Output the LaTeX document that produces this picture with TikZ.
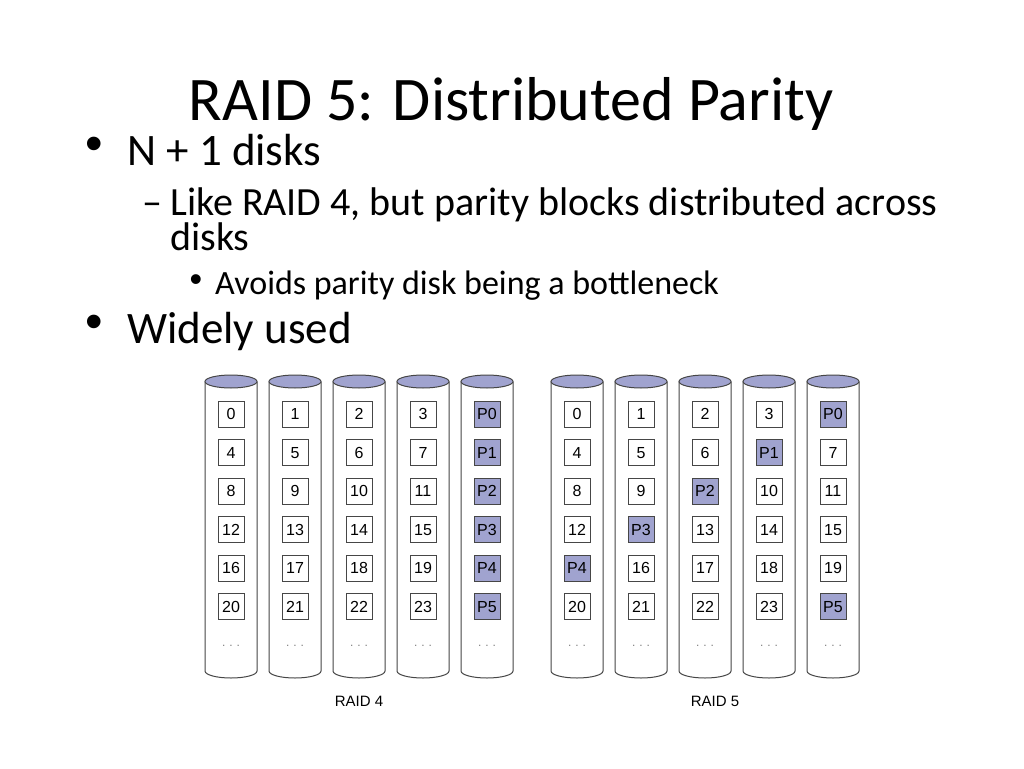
\documentclass[tikz,border=0pt]{standalone}
\usepackage{fontspec}
\setmainfont{Carlito}
\newfontfamily\diagfont{Liberation Sans}
\definecolor{parity}{RGB}{160,163,207}
\definecolor{edge}{RGB}{70,70,70}
\begin{document}
\begin{tikzpicture}[x=1pt,y=-1pt,
  titletext/.style={anchor=base,inner sep=0pt,font=\fontsize{62}{62}\selectfont},
  lone/.style={anchor=base west,inner sep=0pt,font=\fontsize{45}{45}\selectfont},
  ltwo/.style={anchor=base west,inner sep=0pt,font=\fontsize{40}{40}\selectfont},
  lthree/.style={anchor=base west,inner sep=0pt,font=\fontsize{34}{34}\selectfont},
  bul/.style={inner sep=0pt,font=\diagfont\fontsize{#1}{#1}\selectfont},
  blk/.style={draw=edge,line width=1pt,minimum width=26pt,minimum height=26pt,inner sep=0pt,
    text height=11.5pt,text depth=0pt,font=\diagfont\fontsize{16}{16}\selectfont},
  par/.style={blk,fill=parity},
  dotlbl/.style={inner sep=0pt,text=gray,font=\diagfont\fontsize{12}{12}\selectfont},
  captext/.style={inner sep=0pt,font=\diagfont\fontsize{15}{15}\selectfont},
  diskline/.style={draw=edge,line width=1pt}]
\useasboundingbox (0,0) rectangle (1024,768);
\fill[white] (0,0) rectangle (1024,768);

\node[titletext] (t) at (511,120) {RAID 5: Distributed Parity};
\node[bul=50] (b1) at (94,148.5) {•};
\node[lone] (l1) at (127,165) {N + 1 disks};
\node[ltwo] (b2) at (142,215) {–};
\node[ltwo,text depth=0pt] (l2) at (170,215) {Like RAID 4, but parity blocks distributed across};
\node[ltwo,text height=24pt] (l2b) at (170,250) {disks};
\node[bul=36] (b3) at (196,283) {•};
\node[lthree] (l3) at (215,294) {Avoids parity disk being a bottleneck};
\node[bul=50] (b4) at (94,326.5) {•};
\node[lone] (l4) at (127,343) {Widely used};

% cylinders
\foreach \L in {205,269,333,397,461,551,615,679,743,807}{
  \fill[white] (\L,381.5) -- (\L,671) arc[start angle=180,end angle=360,x radius=26pt,y radius=7pt] -- (\L+52,381.5) -- cycle;
  \draw[diskline] (\L,381.5) -- (\L,671) arc[start angle=180,end angle=360,x radius=26pt,y radius=7pt] -- (\L+52,381.5);
  \draw[diskline,fill=parity] (\L+26,381.5) ellipse[x radius=26pt,y radius=6.5pt];
}

% RAID 4 blocks
\foreach \r/\y in {0/414,1/452.5,2/491,3/529.5,4/568,5/606.5}{
  \foreach \c/\x in {0/231,1/295,2/359,3/423}{
    \pgfmathtruncatemacro{\n}{4*\r+\c}
    \node[blk] (a\r\c) at (\x,\y) {\n};
  }
  \node[par] (a\r4) at (487,\y) {P\r};
}
% RAID 5 blocks
\foreach \r/\y/\cells in {0/414/{0,1,2,3,P0},1/452.5/{4,5,6,P1,7},2/491/{8,9,P2,10,11},3/529.5/{12,P3,13,14,15},4/568/{P4,16,17,18,19},5/606.5/{20,21,22,23,P5}}{
  \foreach \v [count=\c from 0] in \cells{
    \pgfmathsetmacro{\x}{577+64*\c}
    \pgfmathtruncatemacro{\pc}{4-\r}
    \ifnum\r=5 \def\pc{4}\fi
    \ifnum\c=\pc
      \node[par] (b\r\c) at (\x,\y) {\v};
    \else
      \node[blk] (b\r\c) at (\x,\y) {\v};
    \fi
  }
}
\foreach \x [count=\i] in {231,295,359,423,487}{
  \node[dotlbl] (da\i) at (\x,646) {.\,\,.\,\,.};
}
\foreach \x [count=\i] in {577,641,705,769,833}{
  \node[dotlbl] (db\i) at (\x,646) {.\,\,.\,\,.};
}
\node[captext] (c4) at (359,701) {RAID 4};
\node[captext] (c5) at (715,701) {RAID 5};
\end{tikzpicture}
\end{document}
